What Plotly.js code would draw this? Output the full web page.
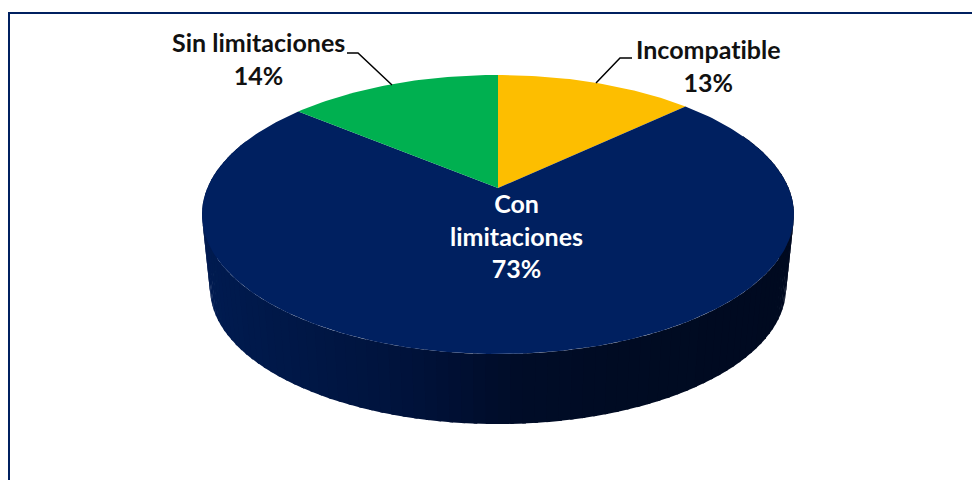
<!DOCTYPE html>
<html><head><meta charset="utf-8">
<script src="https://cdn.plot.ly/plotly-3.0.1.min.js"></script>
<style>html,body{margin:0;padding:0;background:#fff} text{font-variant-ligatures:none;font-feature-settings:"liga" 0}</style></head>
<body><div id="chart" style="width:972px;height:480px"></div>
<script>
const categories = ["Incompatible", "Con limitaciones", "Sin limitaciones"];
const shares = [13, 73, 14];
const sliceColors = ["#FDBE00", "#002060", "#00B050"];

// perspective disc model, in pixel-like axis units
const cx = 498, cyTop = 188, cyBot = 262.5, k = 0.19, a = 134.5, b = 290.6, s = 0.973;
const total = shares.reduce((p, c) => p + c, 0);
function proj(deg, bottom) {
  const t = deg * Math.PI / 180, d = 1 + k * Math.cos(t), f = bottom ? s : 1;
  return [cx + f * b * Math.sin(t) / d, (bottom ? cyBot : cyTop) - f * a * Math.cos(t) / d];
}
const wallStops = [[205,[0,27,80]],[300,[0,23,70]],[400,[0,19,60]],[460,[0,15,50]],[520,[0,12,40]],[620,[0,11,35]],[790,[0,10,32]]];
function wallColor(x) {
  for (let i = 1; i < wallStops.length; i++) {
    if (x <= wallStops[i][0]) {
      const [x0, c0] = wallStops[i-1], [x1, c1] = wallStops[i];
      const u = Math.max(0, (x - x0) / (x1 - x0));
      return "rgb(" + c0.map((v, j) => Math.round(v + (c1[j] - v) * u)).join(",") + ")";
    }
  }
  return "rgb(0,10,32)";
}
const traces = [];
const poly = (xs, ys, color) => traces.push({type:"scatter", mode:"lines", x:xs, y:ys, fill:"toself",
  fillcolor:color, line:{width:0, color:color}, hoverinfo:"skip", showlegend:false});

// side wall
const step = 2;
for (let d = 292; d >= 68; d -= step) {
  const p = [proj(d,false), proj(d-step-0.6,false), proj(d-step-0.6,true), proj(d,true)];
  poly(p.map(q=>q[0]), p.map(q=>q[1]), wallColor((p[0][0]+p[1][0])/2));
}
// top faces
let start = 0;
shares.forEach((v, i) => {
  const end = start + v / total * 360, xs = [cx], ys = [cyTop];
  const n = Math.ceil(end - start);
  for (let j = 0; j <= n; j++) { const q = proj(start + (end-start)*j/n, false); xs.push(q[0]); ys.push(q[1]); }
  xs.push(cx); ys.push(cyTop);
  poly(xs, ys, sliceColors[i]);
  start = end;
});
// leader lines
[[[347,358,392],[53,53,85]], [[632,620,596],[58,58,83]]].forEach(l => traces.push({type:"scatter", mode:"lines",
  x:l[0], y:l[1], line:{color:"#000", width:1.5}, hoverinfo:"skip", showlegend:false}));

const font = c => ({family:"Lato, Carlito, sans-serif", size:25, color:c, weight:700});
const lab = (x, y, text, c) => ({x, y, xref:"x", yref:"y", text:"<b>"+text+"</b>", showarrow:false, font:font(c), align:"center", xanchor:"center", yanchor:"middle"});
const annotations = [
  lab(258, 58.5, categories[2] + "<br>" + shares[2] + "%", "#111"),
  lab(708, 65.5, categories[0] + "<br>" + shares[0] + "%", "#111"),
  lab(516, 235.5, "Con<br>limitaciones<br>" + shares[1] + "%", "#fff")
];
Plotly.newPlot("chart", traces, {
  width:972, height:480, margin:{l:0,r:0,t:0,b:0}, paper_bgcolor:"#fff", plot_bgcolor:"#fff", showlegend:false,
  xaxis:{range:[0,972], visible:false, fixedrange:true},
  yaxis:{range:[480,0], visible:false, fixedrange:true},
  annotations,
  shapes:[{type:"rect", xref:"x", yref:"y", x0:9, y0:13, x1:990, y1:500, line:{color:"#002060", width:2}, layer:"below"}]
}, {displayModeBar:false, staticPlot:true});
</script></body></html>
